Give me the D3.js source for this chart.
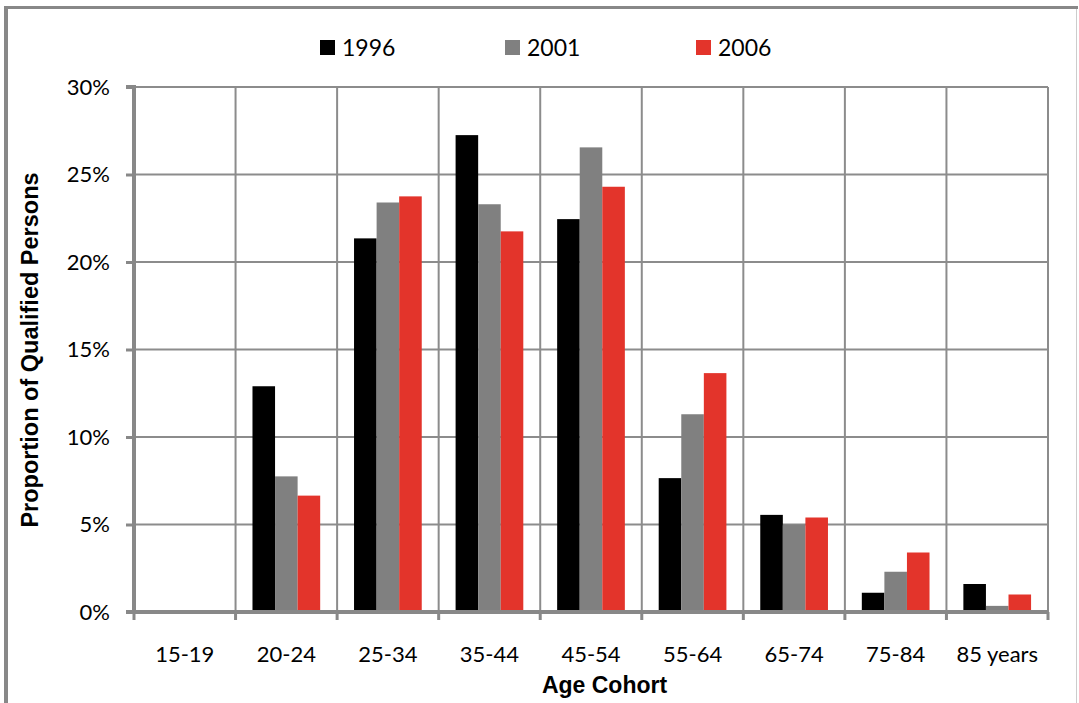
<!DOCTYPE html>
<html>
<head>
<meta charset="utf-8">
<script src="https://cdn.jsdelivr.net/npm/d3@7"></script>
<style>
  html, body { margin: 0; padding: 0; background: #fff; }
  svg { display: block; font-family: Lato, "Open Sans", sans-serif; }
</style>
</head>
<body>
<svg id="chart" width="1079" height="703"></svg>
<script>
const categories = ["15-19", "20-24", "25-34", "35-44", "45-54", "55-64", "65-74", "75-84", "85 years"];
const seriesNames = ["1996", "2001", "2006"];
const values1996 = [0, 12.9, 21.35, 27.25, 22.45, 7.65, 5.55, 1.1, 1.6];
const values2001 = [0, 7.75, 23.4, 23.3, 26.55, 11.3, 5.0, 2.3, 0.35];
const values2006 = [0, 6.65, 23.75, 21.75, 24.3, 13.65, 5.4, 3.4, 1.0];
const yTicks = [0, 5, 10, 15, 20, 25, 30];
const colors = ["#000000", "#808080", "#E3342B"];

const seriesValues = [values1996, values2001, values2006];

const svg = d3.select("#chart");
const W = 1079, H = 703;
const plot = { left: 134, right: 1048, top: 87, bottom: 612 };

// outer frame
svg.append("rect").attr("x", 0).attr("y", 0).attr("width", W).attr("height", H).attr("fill", "#fff");
svg.append("line").attr("x1", 4).attr("x2", 1078).attr("y1", 7.5).attr("y2", 7.5)
  .attr("stroke", "#888").attr("stroke-width", 3);
svg.append("line").attr("x1", 6).attr("x2", 6).attr("y1", 6).attr("y2", H)
  .attr("stroke", "#888").attr("stroke-width", 4);
svg.append("line").attr("x1", 1076.5).attr("x2", 1076.5).attr("y1", 9).attr("y2", H)
  .attr("stroke", "#ccc").attr("stroke-width", 1);

const x = d3.scaleBand().domain(categories).range([plot.left, plot.right]).paddingInner(0).paddingOuter(0);
const xs = d3.scaleBand().domain(seriesNames).range([0, x.bandwidth()]).paddingInner(0).paddingOuter(0.75);
const y = d3.scaleLinear().domain([0, 30]).range([plot.bottom, plot.top]);

// horizontal gridlines
svg.append("g").selectAll("line").data(yTicks.filter(t => t > 0)).join("line")
  .attr("x1", plot.left).attr("x2", plot.right)
  .attr("y1", d => y(d)).attr("y2", d => y(d))
  .attr("stroke", "#8c8c8c").attr("stroke-width", 2);

// vertical gridlines at category boundaries
const boundaries = categories.map(c => x(c) + x.bandwidth());
svg.append("g").selectAll("line").data(boundaries).join("line")
  .attr("x1", d => d).attr("x2", d => d)
  .attr("y1", plot.top).attr("y2", plot.bottom)
  .attr("stroke", "#8c8c8c").attr("stroke-width", 2);

// bars
const groups = svg.append("g").selectAll("g").data(seriesNames).join("g")
  .attr("fill", (d, i) => colors[i]);
groups.selectAll("rect").data((s, i) => categories.map((c, j) => ({ c, s, v: seriesValues[i][j] })))
  .join("rect")
  .attr("x", d => x(d.c) + xs(d.s))
  .attr("width", xs.bandwidth())
  .attr("y", d => y(d.v))
  .attr("height", d => y(0) - y(d.v));

// y axis
const yAxis = d3.axisLeft(y).tickValues(yTicks).tickFormat(d => d + "%").tickSize(8).tickPadding(16);
const gy = svg.append("g").attr("transform", `translate(${plot.left},0)`).call(yAxis);
gy.select(".domain").attr("stroke", "#888").attr("stroke-width", 4).attr("d", `M-8,${plot.top}H0V${plot.bottom}`);
gy.selectAll(".tick line").attr("stroke", "#888").attr("stroke-width", 3);
gy.selectAll(".tick text").attr("fill", "#000").attr("font-size", 22).attr("font-family", "Lato, sans-serif");

// x axis
const xAxis = d3.axisBottom(x).tickSize(0).tickPadding(34);
const gx = svg.append("g").attr("transform", `translate(0,${plot.bottom})`).call(xAxis);
gx.select(".domain").attr("stroke", "#888").attr("stroke-width", 4).attr("d", `M${plot.left - 8},0H${plot.right}`);
gx.selectAll(".tick text").attr("fill", "#000").attr("font-size", 22).attr("font-family", "Lato, sans-serif");
// tick marks at category boundaries
const tickPos = [plot.left].concat(boundaries);
gx.append("g").selectAll("line").data(tickPos).join("line")
  .attr("x1", d => d).attr("x2", d => d).attr("y1", 0).attr("y2", 8)
  .attr("stroke", "#888").attr("stroke-width", 3);

// axis titles
const titleFont = "'Liberation Sans', Arial, sans-serif";
svg.append("text").attr("x", 604.5).attr("y", 693).attr("text-anchor", "middle")
  .attr("font-family", titleFont).attr("font-weight", "bold").attr("font-size", 23).text("Age Cohort");
svg.append("text").attr("transform", `translate(38,350) rotate(-90)`).attr("text-anchor", "middle")
  .attr("font-family", titleFont).attr("font-weight", "bold").attr("font-size", 23.5).text("Proportion of Qualified Persons");

// legend
const legendX = [320, 505, 696];
const lg = svg.append("g").selectAll("g").data(seriesNames).join("g")
  .attr("transform", (d, i) => `translate(${legendX[i]},40)`);
lg.append("rect").attr("width", 15).attr("height", 15).attr("fill", (d, i) => colors[i]);
lg.append("text").attr("x", 22).attr("y", 16).attr("font-size", 23).attr("fill", "#000").text(d => d);
</script>
</body>
</html>
